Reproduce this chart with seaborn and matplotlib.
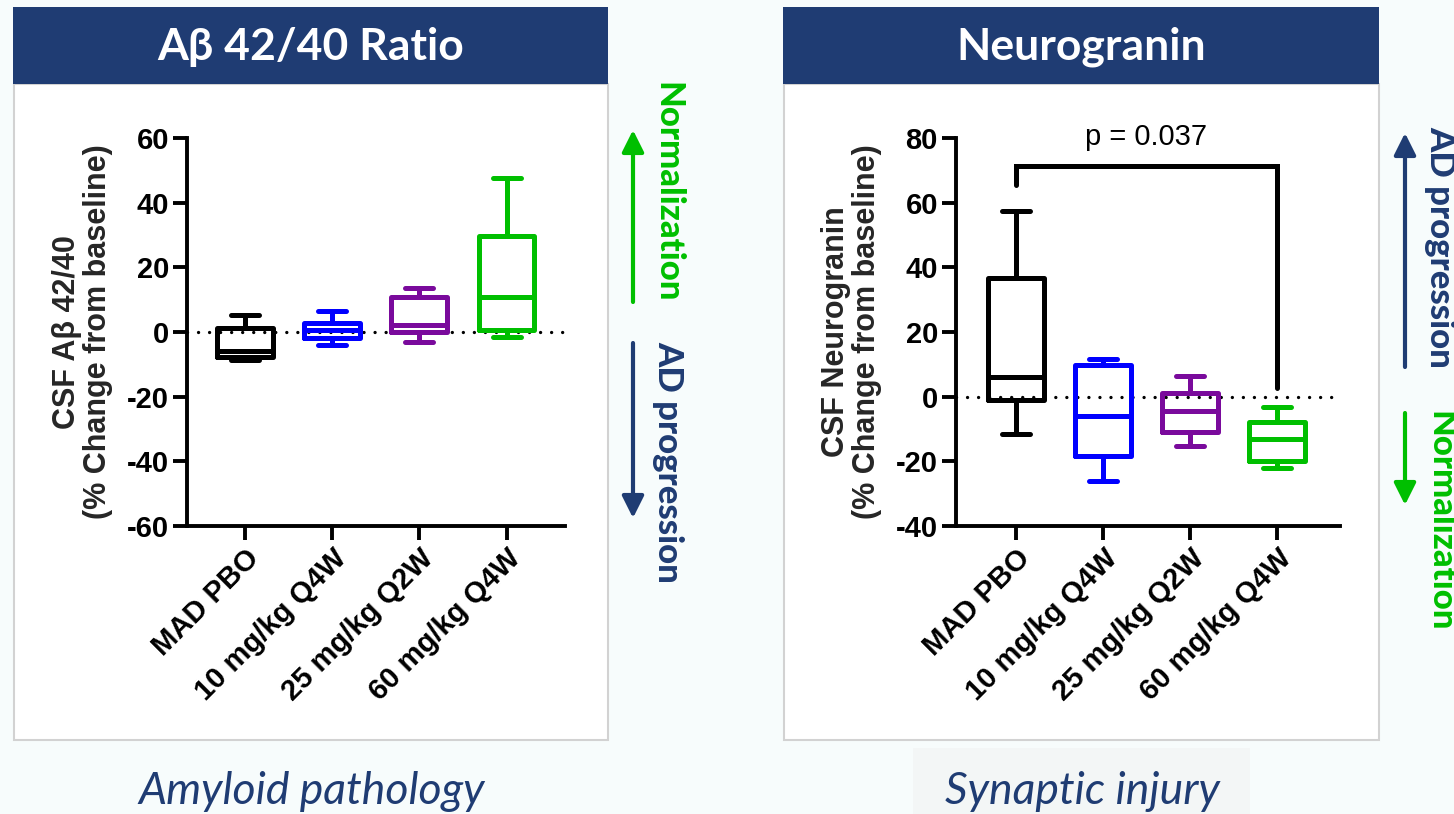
import numpy as np
import pandas as pd
import seaborn as sns
import matplotlib.pyplot as plt
from matplotlib.patches import Rectangle, FancyArrowPatch

# ---- data (five-number summaries) ------------------------------------------
groups = ["MAD PBO", "10 mg/kg Q4W", "25 mg/kg Q2W", "60 mg/kg Q4W"]
box_colors = ["#000000", "#0000FF", "#7A0A9C", "#00BF00"]

abeta_min = [-8.7, -4.0, -3.0, -1.4]
abeta_q1 = [-7.6, -1.8, 0.1, 0.6]
abeta_med = [-5.8, 0.7, 2.2, 10.9]
abeta_q3 = [1.1, 2.7, 10.9, 29.7]
abeta_max = [5.4, 6.5, 13.6, 47.5]

ng_min = [-11.5, -26.2, -15.4, -22.1]
ng_q1 = [-0.9, -18.3, -11.0, -20.0]
ng_med = [6.0, -6.1, -4.5, -13.1]
ng_q3 = [36.7, 9.9, 1.1, -7.8]
ng_max = [57.3, 11.7, 6.5, -3.2]

# significance bracket: MAD PBO vs 60 mg/kg Q4W
bracket_y = 71.2
bracket_left_end = 65.6
bracket_right_end = 2.7
p_text = "p = 0.037"

NAVY = "#1F3C73"
GREEN = "#00BF00"
BG = "#F7FCFC"
W, H = 1454, 814

sns.set_theme(style="ticks")
plt.rcParams["font.family"] = ["Liberation Sans", "DejaVu Sans"]


def long_frame(mins, q1s, meds, q3s, maxs):
    rows = []
    for g, a, b, c, d, e in zip(groups, mins, q1s, meds, q3s, maxs):
        for v in (a, b, c, d, e):
            rows.append({"group": g, "value": v})
    return pd.DataFrame(rows)


def fx(px):
    return px / W


def fy(py):
    return 1 - py / H


fig = plt.figure(figsize=(W / 100, H / 100), dpi=100, facecolor=BG)

# panels + title bars
for x0, x1, title in [(13, 608, "Aβ 42/40 Ratio"), (783, 1379, "Neurogranin")]:
    fig.patches.append(Rectangle((fx(x0 + 1), fy(740)), fx(x1 - x0 - 1), (740 - 84) / H,
                                 transform=fig.transFigure, facecolor="white",
                                 edgecolor="#D2D2D2", lw=1.5, zorder=0))
    fig.patches.append(Rectangle((fx(x0), fy(84)), fx(x1 - x0), 77 / H,
                                 transform=fig.transFigure, facecolor=NAVY,
                                 edgecolor="none", zorder=0))
    fig.text(fx((x0 + x1) / 2), fy(47), title, color="white", fontsize=32,
             fontweight="bold", family=["Lato", "DejaVu Sans"], ha="center", va="center")

# light box behind the right caption
fig.patches.append(Rectangle((fx(913), 0), fx(337), 66 / H, transform=fig.transFigure,
                             facecolor="#F3F6F6", edgecolor="none", zorder=0))
fig.text(fx(312), fy(792), "Amyloid pathology", color=NAVY, fontsize=32,
         style="italic", family=["Lato", "DejaVu Sans"], ha="center", va="center")
fig.text(fx(1082), fy(792), "Synaptic injury", color=NAVY, fontsize=32,
         style="italic", family=["Lato", "DejaVu Sans"], ha="center", va="center")

palette = dict(zip(groups, box_colors))


def draw_panel(rect, df, ylim, yticks, xlim, ylabel):
    ax = fig.add_axes(rect, zorder=3)
    ax.patch.set_alpha(0)
    ax.axhline(0, color="black", lw=2.4, ls=(0, (0.01, 3.3)), dash_capstyle="round", zorder=1)
    sns.boxplot(data=df, x="group", y="value", hue="group", order=groups,
                palette=palette, fill=False, width=0.64, whis=(0, 100),
                linewidth=3.6, legend=False, ax=ax)
    ax.set_ylim(*ylim)
    ax.set_yticks(yticks)
    ax.set_yticklabels([str(t) for t in yticks], fontsize=21, fontweight="bold")
    ax.set_xlim(*xlim)
    ax.set_xticks(range(len(groups)))
    ax.set_xticklabels(groups, rotation=45, ha="right", rotation_mode="anchor",
                       fontsize=21, fontweight="bold")
    ax.set_xlabel("")
    ax.set_ylabel(ylabel, fontsize=22, fontweight="bold", labelpad=10, linespacing=1.05)
    sns.despine(ax=ax)
    ax.spines["left"].set_linewidth(2.8)
    ax.spines["bottom"].set_linewidth(2.8)
    ax.spines["left"].set_color("black")
    ax.spines["bottom"].set_color("black")
    ax.tick_params(axis="both", length=10, width=2.8, color="black", labelcolor="black", pad=3)
    return ax


axh = 388 / H
ax1 = draw_panel([fx(187), fy(526), fx(378), axh],
                 long_frame(abeta_min, abeta_q1, abeta_med, abeta_q3, abeta_max),
                 (-60, 60), list(range(-60, 61, 20)), (-0.664, 3.67),
                 "CSF Aβ 42/40\n(% Change from baseline)")
ax2 = draw_panel([fx(956), fy(526), fx(384), axh],
                 long_frame(ng_min, ng_q1, ng_med, ng_q3, ng_max),
                 (-40, 80), list(range(-40, 81, 20)), (-0.685, 3.72),
                 "CSF Neurogranin\n(% Change from baseline)")

ax2.plot([0, 0, 3, 3], [bracket_left_end, bracket_y, bracket_y, bracket_right_end],
         color="black", lw=3.6, solid_joinstyle="miter", clip_on=False, zorder=5)
ax2.text(1.5, 80.4, p_text, ha="center", va="center", fontsize=21, color="black")


# side arrows and labels
def side_arrow(x, y_tail, y_tip, color):
    fig.patches.append(FancyArrowPatch((fx(x), fy(y_tail)), (fx(x), fy(y_tip)),
                                       transform=fig.transFigure, color=color,
                                       arrowstyle="-|>,head_length=0.6,head_width=0.3",
                                       mutation_scale=22, lw=3, shrinkA=0, shrinkB=0))


def side_text(x, y, s, color):
    fig.text(fx(x), fy(y), s, color=color, rotation=270, fontsize=25, fontweight="black",
             family=["Lato", "DejaVu Sans"], ha="center", va="center")


side_arrow(633, 302, 130, GREEN)
side_arrow(633, 343, 518, NAVY)
side_text(667, 192, "Normalization", GREEN)
side_text(668, 462, "AD progression", NAVY)

side_arrow(1405, 367, 133, NAVY)
side_arrow(1405, 413, 505, GREEN)
side_text(1440, 247, "AD progression", NAVY)
side_text(1440, 521, "Normalization", GREEN)

fig.savefig("out.png", dpi=100, facecolor=BG)
